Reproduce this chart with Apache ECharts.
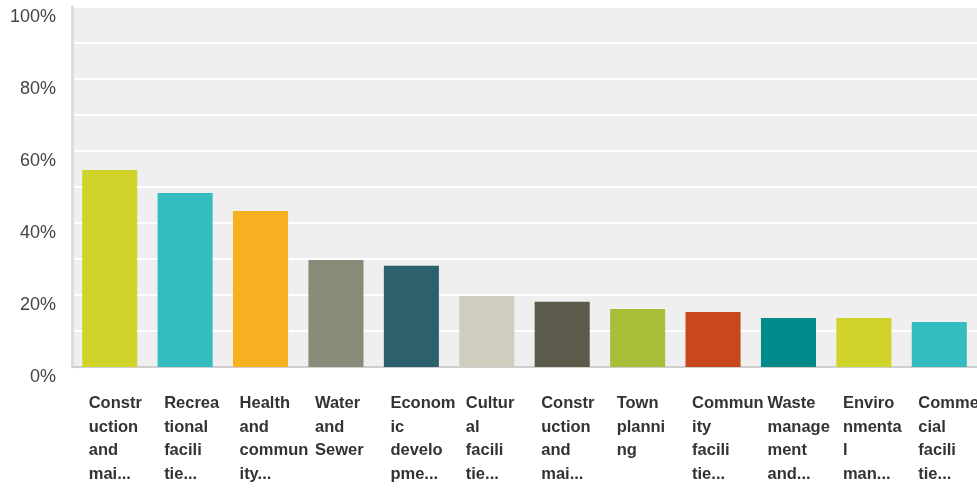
<!DOCTYPE html>
<html>
<head>
<meta charset="utf-8">
<script src="https://cdn.jsdelivr.net/npm/echarts@6/dist/echarts.min.js"></script>
<style>
  html, body { margin: 0; padding: 0; background: #fff; }
  #chart { width: 977px; height: 489px; }
</style>
</head>
<body>
<div id="chart"></div>
<script>
// labels as they appear (already wrapped / cut by the survey tool)
var categories = [
  'Constr\nuction\nand\nmai...',
  'Recrea\ntional\nfacili\ntie...',
  'Health\nand\ncommun\nity...',
  'Water\nand\nSewer',
  'Econom\nic\ndevelo\npme...',
  'Cultur\nal\nfacili\ntie...',
  'Constr\nuction\nand\nmai...',
  'Town\nplanni\nng',
  'Commun\nity\nfacili\ntie...',
  'Waste\nmanage\nment\nand...',
  'Enviro\nnmenta\nl\nman...',
  'Commer\ncial\nfacili\ntie...'
];
var values = [54.7, 48.3, 43.3, 29.7, 28.1, 19.7, 18.1, 16.1, 15.3, 13.6, 13.6, 12.5];
var barColors = ['#d0d42a', '#33bdbf', '#f7b01f', '#8a8a79', '#2e5f6d', '#cfcdbe',
  '#5b5a4b', '#a9bd39', '#c8471d', '#008a8a', '#d0d42a', '#33bdbf'];
var yTicks = [0, 20, 40, 60, 80, 100];

var chart = echarts.init(document.getElementById('chart'))
var option = {
  animation: false,
  grid: {
    left: 72,
    right: 0,
    top: 7,
    bottom: 122,
    outerBoundsMode: 'none', // last label may run off the edge, like the original
    show: true,
    backgroundColor: '#efefef',
    borderWidth: 0
  },
  xAxis: {
    type: 'category',
    data: categories,
    axisTick: { show: false },
    axisLine: {
      show: true,
      lineStyle: { color: '#cfcfcf', width: 2 }
    },
    axisLabel: {
      interval: 0,
      align: 'left',
      verticalAlign: 'top',
      margin: 25,
      padding: [0, 0, 0, -21], // text starts a bit left of the category centre
      color: '#333',
      fontFamily: 'Liberation Sans, Arial, sans-serif',
      fontWeight: 'bold',
      fontSize: 16.5,
      lineHeight: 23.5
    }
  },
  yAxis: {
    type: 'value',
    min: 0,
    max: 100,
    interval: 10,
    axisTick: { show: false },
    axisLine: {
      show: true,
      lineStyle: { color: '#dcdcdc', width: 3 }
    },
    splitLine: {
      lineStyle: { color: '#ffffff', width: 2 }
    },
    axisLabel: {
      margin: 16,
      verticalAlign: 'top',
      lineHeight: 20,
      color: '#444',
      fontFamily: 'Liberation Sans, Arial, sans-serif',
      fontSize: 18,
      formatter: function (val) {
        return yTicks.indexOf(val) >= 0 ? val + '%' : ''
      }
    }
  },
  series: [
    {
      type: 'bar',
      data: values,
      barCategoryGap: '27%',
      itemStyle: {
        color: function (params) {
          return barColors[params.dataIndex]
        }
      }
    }
  ]
}
chart.setOption(option)
</script>
</body>
</html>
